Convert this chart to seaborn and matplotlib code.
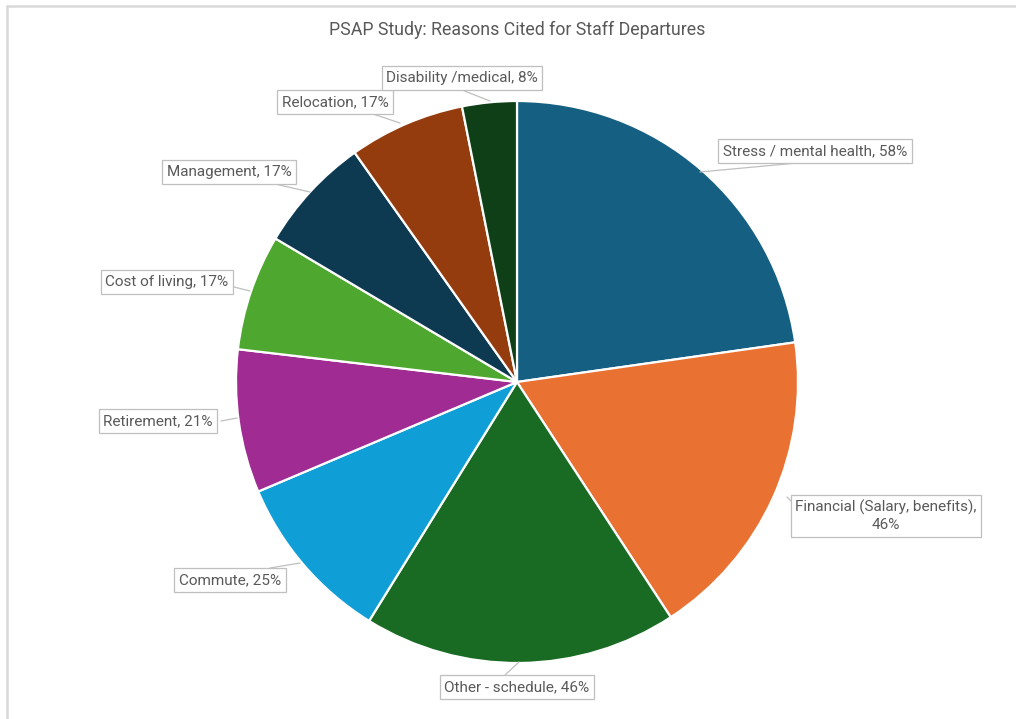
import matplotlib
matplotlib.use("Agg")
import matplotlib.pyplot as plt
import seaborn as sns
import numpy as np

# Survey results: share of respondents citing each reason
reasons = [
    "Stress / mental health",
    "Financial (Salary, benefits),\n",
    "Other - schedule",
    "Commute",
    "Retirement",
    "Cost of living",
    "Management",
    "Relocation",
    "Disability /medical",
]
percent = [58, 46, 46, 25, 21, 17, 17, 17, 8]
slice_colors = ["#156082", "#E97132", "#196B24", "#0F9ED5", "#A02B93",
                "#4EA72E", "#0D3A51", "#953C0F", "#0F3F16"]

sns.set_theme(style="white")
plt.rcParams["font.family"] = ["Roboto", "DejaVu Sans"]

W, H = 1016, 719
fig = plt.figure(figsize=(W / 100, H / 100), dpi=100)
ax = fig.add_axes([0, 0, 1, 1])

cx, cy, r = 517, H - 382, 281
palette = sns.color_palette(slice_colors)
wedges, _ = ax.pie(percent, colors=palette, startangle=90, counterclock=False,
                   center=(cx, cy), radius=r, frame=True,
                   wedgeprops=dict(edgecolor="white", linewidth=1.6))
ax.set_xlim(0, W)
ax.set_ylim(0, H)
ax.axis("off")

# label box centres and leader targets (pixel coordinates, y from top)
label_pos = [(815, 151), (886, 516), (517, 687), (230, 580), (158, 421),
             (167, 282), (229, 172), (335, 102), (462, 78)]
leader_end = [(700, 172), (787, 497), (519, 662), (300, 563), (237, 418),
              (250, 291), (310, 192), (400, 123), (490, 101)]
box_edge = [(797, 163), (800, 510), (505, 675), (270, 568), (221, 421),
            (234, 287), (275, 184), (370, 113), (462, 90)]

for name, val, (lx, ly), (ex, ey), (bx, by) in zip(reasons, percent, label_pos,
                                                    leader_end, box_edge):
    if name.endswith("\n"):
        text = f"{name}{val}%"
    else:
        text = f"{name}, {val}%"
    ax.plot([ex, bx], [H - ey, H - by], color="#BFBFBF", lw=0.9, zorder=1)
    ax.text(lx, H - ly, text, ha="center", va="center", fontsize=11,
            color="#595959", linespacing=1.3, zorder=3,
            bbox=dict(boxstyle="square,pad=0.3", facecolor="white",
                      edgecolor="#BFBFBF", linewidth=0.9))

ax.text(517, H - 30, "PSAP Study: Reasons Cited for Staff Departures",
        ha="center", va="center", fontsize=12.8, color="#595959")

# chart frame edges (top and left)
ax.plot([7, W], [H - 6, H - 6], color="#D9D9D9", lw=1.8, clip_on=False)
ax.plot([7, 7], [H - 6, 0], color="#D9D9D9", lw=1.8, clip_on=False)

fig.savefig("out.png", dpi=100, facecolor="white")
